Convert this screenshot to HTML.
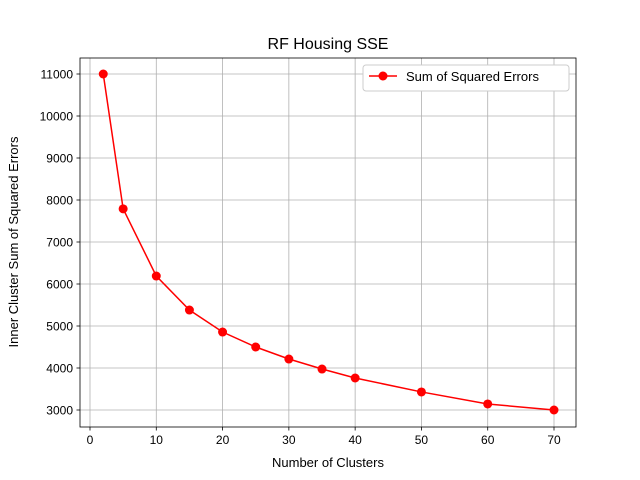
<!DOCTYPE html>
<html><head><meta charset="utf-8"><style>
body{margin:0;background:#fff;}
svg{display:block;font-family:"Liberation Sans","DejaVu Sans",sans-serif;}
</style></head><body>
<svg id="chart" width="640" height="480">
<rect x="0" y="0" width="640" height="480" fill="#fff"/>
<g id="grid"></g>
<g id="axes"></g>
<g id="series"></g>
<rect x="80" y="58" width="496" height="369" fill="none" stroke="#000" stroke-width="0.8"/>
<text x="328" y="49" font-size="16" text-anchor="middle">RF Housing SSE</text>
<text x="328" y="467" font-size="13" text-anchor="middle">Number of Clusters</text>
<text transform="translate(18,242) rotate(-90)" font-size="13" text-anchor="middle">Inner Cluster Sum of Squared Errors</text>
<g>
<rect x="363" y="65" width="206" height="26" rx="3" fill="#fff" stroke="#ccc"/>
<line x1="369" y1="76" x2="397" y2="76" stroke="#f00" stroke-width="1.5"/>
<circle cx="383" cy="76" r="4.5" fill="#f00"/>
<text x="406" y="81" font-size="13">Sum of Squared Errors</text>
</g>
</svg>
<script>
const clusters=[2,5,10,15,20,25,30,35,40,50,60,70];
const sse=[11000,7790,6190,5380,4857,4500,4214,3976,3762,3430,3143,3000];
const xTicks=[0,10,20,30,40,50,60,70];
const yTicks=[3000,4000,5000,6000,7000,8000,9000,10000,11000];
const NS="http://www.w3.org/2000/svg";
const L=80,R=576,T=58,B=427;
function xs(v){return 90+v*(464/70);}
function ys(v){return 410-(v-3000)*0.042;}
function mk(tag,at,parent){const e=document.createElementNS(NS,tag);for(const k in at)e.setAttribute(k,at[k]);document.getElementById(parent).appendChild(e);return e;}
xTicks.forEach(t=>{const x=xs(t);
 let g=mk('line',{x1:x,x2:x,y1:T,y2:B,stroke:'#b0b0b0','stroke-width':0.8},'grid');
 
 
 let k=mk('line',{x1:x,x2:x,y1:B,y2:B+3.5,stroke:'#000','stroke-width':0.8},'axes');
 
 
 let tx=mk('text',{x:x,y:B+17,'font-size':12,'text-anchor':'middle'},'axes');tx.textContent=t;
 
 
});
yTicks.forEach(t=>{const y=ys(t);
 let g=mk('line',{x1:L,x2:R,y1:y,y2:y,stroke:'#b0b0b0','stroke-width':0.8},'grid');
 
 
 let k=mk('line',{x1:L-3.5,x2:L,y1:y,y2:y,stroke:'#000','stroke-width':0.8},'axes');
 
 
 let tx=mk('text',{x:L-7,y:y+4.5,'font-size':12,'text-anchor':'end'},'axes');tx.textContent=t;
 
 
});
const pts=clusters.map((c,i)=>xs(c)+','+ys(sse[i])).join(' ');
let pl=mk('polyline',{points:pts,fill:'none',stroke:'#f00','stroke-width':1.5},'series');


clusters.forEach((c,i)=>{let p=mk('circle',{cx:xs(c),cy:ys(sse[i]),r:4.5,fill:'#f00'},'series');
 
 
});
</script>
</body></html>
